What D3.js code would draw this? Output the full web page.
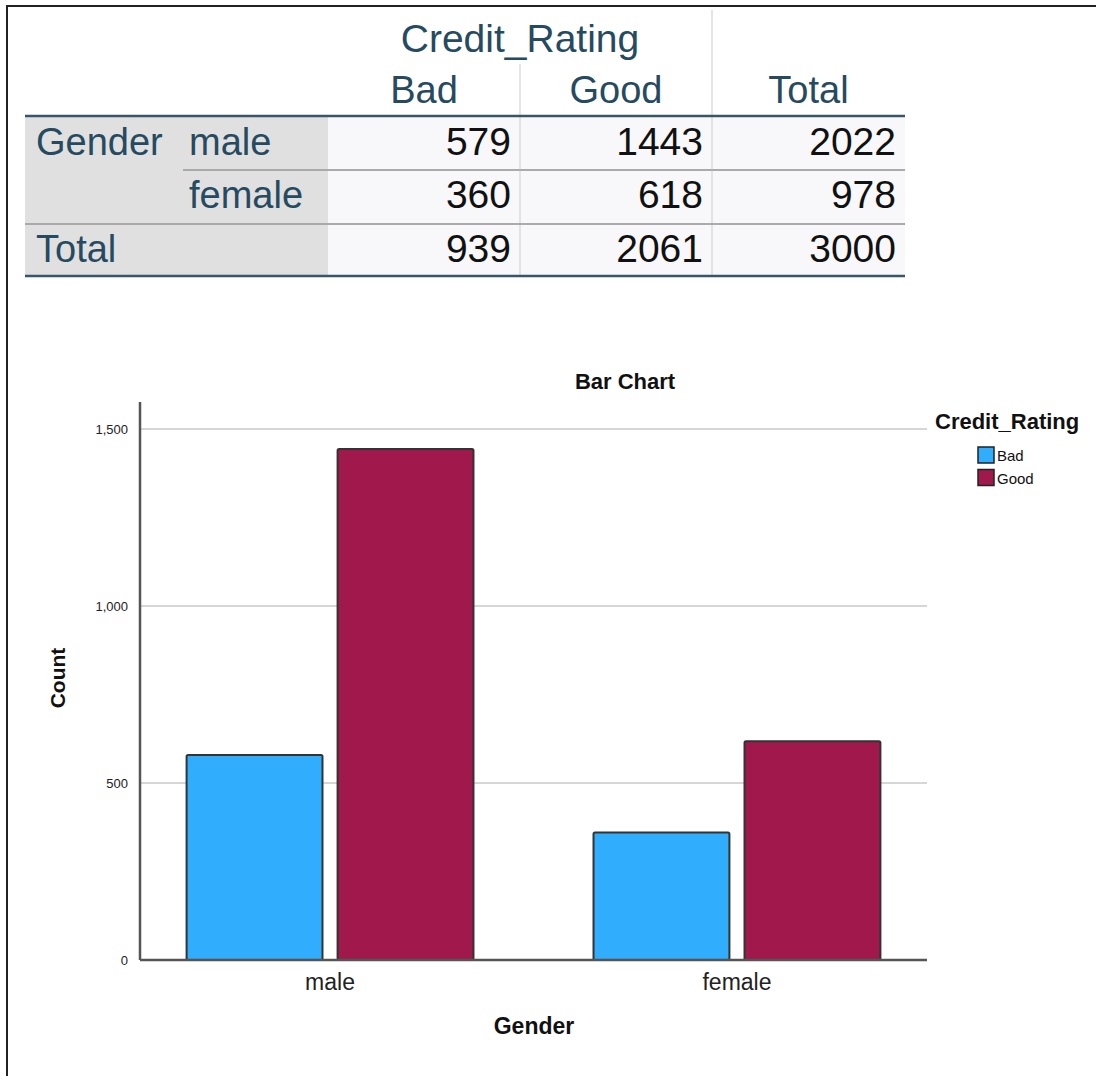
<!DOCTYPE html>
<html>
<head>
<meta charset="utf-8">
<script src="https://cdn.jsdelivr.net/npm/d3@7"></script>
<style>
  body { margin: 0; background: #fff; }
  svg { display: block; font-family: "Liberation Sans", Arial, sans-serif; }
</style>
</head>
<body>
<script>
"use strict";

// crosstab + chart data
var genders = ["male", "female"];
var ratings = ["Bad", "Good"];
var badCounts = [579, 360];
var goodCounts = [1443, 618];
var rowTotals = [2022, 978];
var colTotals = [939, 2061];
var grandTotal = 3000;
var yTicks = [0, 500, 1000, 1500];
var ratingColors = ["#30adfc", "#a0184c"];

(function() {
  var W = 1096, H = 1076;
  var svg = d3.select("body").append("svg")
    .attr("width", W)
    .attr("height", H);

  // outer frame (only top / left edges are inside the shot)
  svg.append("rect")
    .attr("x", 7).attr("y", 6)
    .attr("width", W + 20).attr("height", H + 20)
    .attr("fill", "none")
    .attr("stroke", "#222")
    .attr("stroke-width", 2);

  drawTable();
  drawChart();

  // ---------------- TABLE ----------------
  function drawTable() {
    var head = "#264a60";
    var t = svg.append("g");
    var left = 25, right = 905, labelEnd = 328;
    var colEdges = [328, 520, 712, 905];
    var rowTops = [116, 170, 224];
    var rowBottom = 276;
    var rowBase = [155, 208, 262];

    // backgrounds
    t.append("rect").attr("x", left).attr("y", rowTops[0])
      .attr("width", labelEnd - left).attr("height", rowBottom - rowTops[0])
      .attr("fill", "#e0e0e0");
    t.append("rect").attr("x", labelEnd).attr("y", rowTops[0])
      .attr("width", right - labelEnd).attr("height", rowBottom - rowTops[0])
      .attr("fill", "#f8f8fa");

    // vertical separators
    t.append("line").attr("x1", colEdges[1]).attr("x2", colEdges[1])
      .attr("y1", 64).attr("y2", rowBottom)
      .attr("stroke", "#dcdcdc").attr("stroke-width", 1.5);
    t.append("line").attr("x1", colEdges[2]).attr("x2", colEdges[2])
      .attr("y1", 10).attr("y2", rowBottom)
      .attr("stroke", "#dcdcdc").attr("stroke-width", 1.5);

    // horizontal rules
    t.append("line").attr("x1", 183).attr("x2", right)
      .attr("y1", rowTops[1]).attr("y2", rowTops[1])
      .attr("stroke", "#aaaaaa").attr("stroke-width", 2);
    t.append("line").attr("x1", left).attr("x2", right)
      .attr("y1", rowTops[2]).attr("y2", rowTops[2])
      .attr("stroke", "#aaaaaa").attr("stroke-width", 2);
    [rowTops[0], rowBottom].forEach(function(y) {
      t.append("line").attr("x1", left).attr("x2", right)
        .attr("y1", y).attr("y2", y)
        .attr("stroke", "#3a5468").attr("stroke-width", 2.5);
    });

    var fs = 38;
    // header
    t.append("text").attr("x", colEdges[1]).attr("y", 52)
      .attr("text-anchor", "middle").attr("font-size", 39).attr("fill", head)
      .text("Credit_Rating");
    var heads = ratings.concat(["Total"]);
    heads.forEach(function(h, i) {
      t.append("text").attr("x", (colEdges[i] + colEdges[i + 1]) / 2).attr("y", 103)
        .attr("text-anchor", "middle").attr("font-size", fs).attr("fill", head)
        .text(h);
    });

    // row labels
    t.append("text").attr("x", 36).attr("y", rowBase[0])
      .attr("font-size", fs).attr("fill", head).text("Gender");
    genders.forEach(function(g, i) {
      t.append("text").attr("x", 189).attr("y", rowBase[i])
        .attr("font-size", fs).attr("fill", head).text(g);
    });
    t.append("text").attr("x", 36).attr("y", rowBase[2])
      .attr("font-size", fs).attr("fill", head).text("Total");

    // cells
    var rows = [
      [badCounts[0], goodCounts[0], rowTotals[0]],
      [badCounts[1], goodCounts[1], rowTotals[1]],
      [colTotals[0], colTotals[1], grandTotal]
    ];
    rows.forEach(function(r, i) {
      r.forEach(function(v, j) {
        t.append("text").attr("x", colEdges[j + 1] - 9).attr("y", rowBase[i])
          .attr("text-anchor", "end").attr("font-size", 39).attr("fill", "#111")
          .text(v);
      });
    });
  }

  // ---------------- BAR CHART ----------------
  function drawChart() {
    var x0 = 140, x1 = 927, yBase = 960, yTop = 402;

    var x = d3.scaleBand().domain(genders).range([x0, x1])
      .paddingInner(0.295).paddingOuter(0.1145);
    var xr = d3.scaleBand().domain(ratings).range([0, x.bandwidth()])
      .paddingInner(0.1);
    var y = d3.scaleLinear().domain([0, 1576]).range([yBase, yTop]);

    var g = svg.append("g");

    // gridlines
    g.selectAll("line.grid")
      .data(yTicks.filter(function(d) { return d > 0; }))
      .enter().append("line")
      .attr("class", "grid")
      .attr("x1", x0).attr("x2", x1)
      .attr("y1", function(d) { return y(d); })
      .attr("y2", function(d) { return y(d); })
      .attr("stroke", "#d6d6d6").attr("stroke-width", 2);

    // y axis
    var yAxis = d3.axisLeft(y).tickValues(yTicks).tickFormat(d3.format(","))
      .tickSize(0).tickPadding(12);
    var ya = g.append("g").attr("transform", "translate(" + x0 + ",0)").call(yAxis);
    ya.select(".domain").remove();
    ya.selectAll("text")
      .attr("font-size", 13)
      .attr("font-family", "'Liberation Sans', Arial, sans-serif")
      .attr("fill", "#222");

    // bars
    var data = [];
    genders.forEach(function(gd, i) {
      data.push({g: gd, r: "Bad", v: badCounts[i]});
      data.push({g: gd, r: "Good", v: goodCounts[i]});
    });
    var color = d3.scaleOrdinal().domain(ratings).range(ratingColors);

    g.selectAll("rect.bar")
      .data(data)
      .enter().append("rect")
      .attr("class", "bar")
      .attr("x", function(d) { return x(d.g) + xr(d.r); })
      .attr("y", function(d) { return y(d.v); })
      .attr("width", xr.bandwidth())
      .attr("height", function(d) { return yBase - y(d.v); })
      .attr("rx", 1.5)
      .attr("fill", function(d) { return color(d.r); })
      .attr("stroke", "#333")
      .attr("stroke-width", 2);

    // axis lines
    g.append("line").attr("x1", x0).attr("x2", x0)
      .attr("y1", yTop).attr("y2", yBase)
      .attr("stroke", "#555").attr("stroke-width", 2.5);
    g.append("line").attr("x1", x0).attr("x2", x1)
      .attr("y1", yBase).attr("y2", yBase)
      .attr("stroke", "#555").attr("stroke-width", 2.5);

    // x category labels
    var xAxis = d3.axisBottom(x).tickSize(0).tickPadding(14);
    var xa = g.append("g").attr("transform", "translate(0," + yBase + ")").call(xAxis);
    xa.select(".domain").remove();
    xa.selectAll("text")
      .attr("font-size", 23)
      .attr("font-family", "'Liberation Sans', Arial, sans-serif")
      .attr("fill", "#222");

    // titles
    svg.append("text").attr("x", 625).attr("y", 389)
      .attr("text-anchor", "middle").attr("font-size", 22).attr("font-weight", "bold")
      .attr("fill", "#111").text("Bar Chart");
    svg.append("text").attr("x", 534).attr("y", 1034)
      .attr("text-anchor", "middle").attr("font-size", 23).attr("font-weight", "bold")
      .attr("fill", "#111").text("Gender");
    svg.append("text")
      .attr("transform", "translate(65,678) rotate(-90)")
      .attr("text-anchor", "middle").attr("font-size", 21).attr("font-weight", "bold")
      .attr("fill", "#111").text("Count");

    // legend
    var lg = svg.append("g");
    lg.append("text").attr("x", 935).attr("y", 429)
      .attr("font-size", 22).attr("font-weight", "bold").attr("fill", "#111")
      .text("Credit_Rating");
    ratings.forEach(function(r, i) {
      lg.append("rect").attr("x", 978).attr("y", 447 + i * 22.5)
        .attr("width", 16).attr("height", 16)
        .attr("fill", color(r)).attr("stroke", "#222").attr("stroke-width", 1.5);
      lg.append("text").attr("x", 997).attr("y", 461 + i * 22.5)
        .attr("font-size", 15).attr("fill", "#111").text(r);
    });
  }
})();
</script>
</body>
</html>
